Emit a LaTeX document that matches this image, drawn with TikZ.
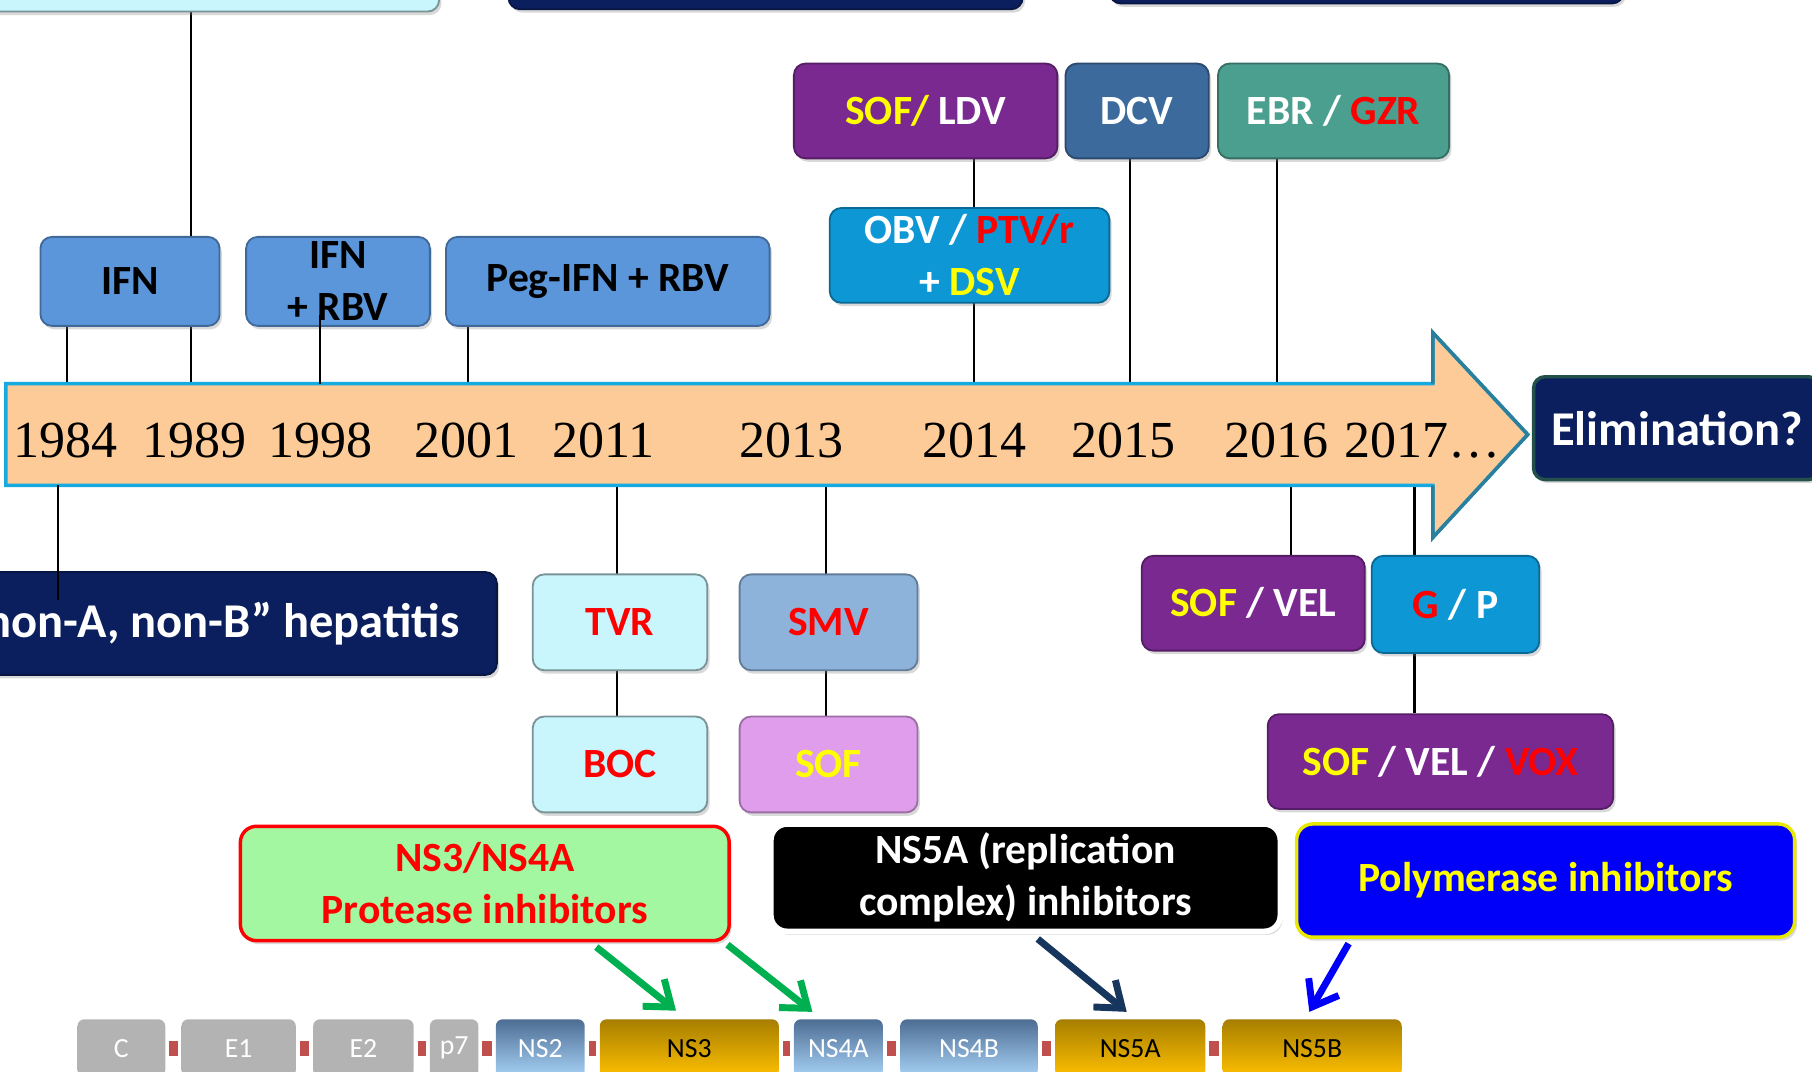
\documentclass[tikz,border=0pt]{standalone}
\usepackage{fontspec}
\setmainfont{Carlito}
\newfontfamily\yearfont{Liberation Serif}
\usetikzlibrary{arrows.meta,shadows,backgrounds}

\definecolor{ifnblue}{HTML}{5B96DA}
\definecolor{daapurple}{HTML}{7A2990}
\definecolor{dcvblue}{HTML}{3D6A9D}
\definecolor{ebrteal}{HTML}{4B9F8E}
\definecolor{skyblue}{HTML}{0E97D5}
\definecolor{navy}{HTML}{0B1F5E}
\definecolor{elimedge}{HTML}{24504C}
\definecolor{paleblue}{HTML}{C9F5FC}
\definecolor{smvblue}{HTML}{8EB3DB}
\definecolor{lilac}{HTML}{DF9DEC}
\definecolor{peach}{HTML}{FCCB98}
\definecolor{barline}{HTML}{17AAE0}
\definecolor{headline}{HTML}{2B7E9C}
\definecolor{pigreen}{HTML}{A3F7A1}
\definecolor{polyblue}{HTML}{0000FA}
\definecolor{polyedge}{HTML}{E8E800}
\definecolor{arrowgreen}{HTML}{00B050}
\definecolor{arrownavy}{HTML}{17365D}
\definecolor{genegrey}{HTML}{B3B3B3}
\definecolor{genegoldtop}{HTML}{A67E00}
\definecolor{genegold}{HTML}{FFC000}
\definecolor{genebluetop}{HTML}{4D6D93}
\definecolor{geneblue}{HTML}{A8D2F7}
\definecolor{linkred}{HTML}{C0504D}
\definecolor{txtyellow}{HTML}{FFFF00}
\definecolor{txtred}{HTML}{FF0000}

\def \BoxFont {\bfseries\fontsize{18}{22.5}\selectfont}
\def \BigFont {\bfseries\fontsize{21}{25}\selectfont}
\def \GeneFont {\fontsize{12}{14}\selectfont}
\def \BarTop {332}
\def \BarBot {420}
\def \GeneY {907}

\tikzstyle{box}=[
  rounded corners=5pt,
  inner sep=0pt,
  align=center,
  font=\BoxFont,
  text=white,
  line width=0.8pt,
  drop shadow={opacity=0.3, shadow xshift=1pt, shadow yshift=-1.5pt}
]
\tikzstyle{ifn}=[box, fill=ifnblue, draw=ifnblue!70!black, text=black, minimum height=38.5pt]
\tikzstyle{daa}=[box, fill=daapurple, draw=daapurple!70!black, minimum height=41pt]
\tikzstyle{sky}=[box, fill=skyblue, draw=skyblue!70!black, minimum height=41pt]
\tikzstyle{pale}=[box, fill=paleblue, draw=paleblue!60!black, text=txtred, minimum width=75.5pt, minimum height=41.5pt]
\tikzstyle{navybox}=[box, fill=navy, draw=navy!70!black]
\tikzstyle{class}=[box, rounded corners=7pt, line width=1.5pt]
\tikzstyle{gene}=[rounded corners=3pt, inner sep=0pt, minimum height=25pt, font=\GeneFont]
\tikzstyle{link}=[draw=linkred, line width=6.5pt, shorten <=1.5pt, shorten >=1.5pt]
\tikzstyle{tick}=[draw=black, line width=1pt]
\tikzstyle{inhib}=[line width=3pt, -{Straight Barb[length=10pt,width=15pt]}]
\tikzstyle{year}=[inner sep=0pt, font=\yearfont\fontsize{22.5}{27}\selectfont]

\begin{document}
\begin{tikzpicture}[x=0.5pt, y=-0.5pt]
  \useasboundingbox (0,0) rectangle (1568,927);
  \clip (0,0) rectangle (1568,927);

  % timeline
  \draw[fill=peach, draw=barline, line width=1.5pt] (5,\BarTop) -- (1240,\BarTop) -- (1240,288)
    -- (1322,376) -- (1240,465) -- (1240,\BarBot) -- (5,\BarBot) -- cycle;
  \draw[draw=headline, line width=1.5pt] (1240,\BarTop) -- (1240,288) -- (1322,376)
    -- (1240,465) -- (1240,\BarBot);

  \foreach \n/\x in {1984/57, 1989/168, 1998/277, 2001/404, 2011/522, 2013/685, 2014/843, 2015/972, 2016/1105}{
    \node[year] (y\n) at (\x,381) {\n};
  }
  \node[year, anchor=west] (y2017) at (1163,381) {2017…};

  \foreach \n/\x in {84/58, 89/165, 98/277, 01/405, 14/843, 15/978, 16/1105}{
    \coordinate (up\n) at (\x,\BarTop);
  }
  \foreach \n/\x in {84/50, 11/534, 13/715, 16/1117, 17/1224}{
    \coordinate (dn\n) at (\x,\BarBot);
  }

  % top, cut off
  \node[pale, minimum width=200pt, minimum height=45pt] (topA) at (180,-35) {};
  \node[navybox, minimum width=222.5pt, minimum height=44pt] (topB) at (662.5,-36) {};
  \node[navybox, minimum width=222.5pt, minimum height=44pt] (topC) at (1182.5,-41) {};

  % interferon
  \node[ifn, minimum width=77.5pt] (ifn) at (112.5,243.5) {IFN};
  \node[ifn, minimum width=79.5pt] (ifnrbv) at (292.5,243.5) {};
  \node[inner sep=0pt, align=center, font=\BoxFont] (ifnrbvtext) at (ifnrbv) {IFN\\+ RBV};
  \node[ifn, minimum width=140pt] (peg) at (526,243.5) {Peg-IFN + RBV};

  % daa above
  \node[daa, minimum width=114pt] (sofldv) at (801,96) {\textcolor{txtyellow}{SOF/} LDV};
  \node[box, fill=dcvblue, draw=dcvblue!70!black, minimum width=62pt, minimum height=41pt] (dcv) at (984,96) {DCV};
  \node[box, fill=ebrteal, draw=ebrteal!70!black, minimum width=100pt, minimum height=41pt] (ebr) at (1154,96) {EBR / \textcolor{txtred}{GZR}};
  \node[sky, minimum width=121pt] (obv) at (839,221) {OBV / \textcolor{txtred}{PTV/r}\\+ \textcolor{txtyellow}{DSV}};
  \node[navybox, draw=elimedge, line width=1.5pt, minimum width=124pt, minimum height=44.5pt,
    font=\BigFont] (elim) at (1451,370.5) {Elimination?};

  % below
  \node[navybox, minimum width=230pt, minimum height=44.5pt] (hep) at (200,539.5) {};
  \node[anchor=east, inner sep=0pt, font=\BigFont, text=white] (heptext) at ([xshift=-16.5pt]hep.east) {“non-A, non-B” hepatitis};
  \node[pale] (tvr) at (536.5,538.5) {TVR};
  \node[pale] (boc) at (536.5,661.5) {BOC};
  \node[box, fill=smvblue, draw=smvblue!70!black, text=txtred, minimum width=77pt, minimum height=41.5pt] (smv) at (717,538.5) {SMV};
  \node[box, fill=lilac, draw=lilac!70!black, text=txtyellow, minimum width=77pt, minimum height=41.5pt] (sof) at (717,661.5) {SOF};
  \node[daa, minimum width=96.5pt] (sofvel) at (1084.5,522) {\textcolor{txtyellow}{SOF} / VEL};
  \node[sky, minimum width=72.5pt, minimum height=42pt] (gp) at (1259.5,523) {\textcolor{txtred}{G} / P};
  \node[daa, minimum width=149.5pt] (sofvelvox) at (1246.5,659) {\textcolor{txtyellow}{SOF} / VEL / \textcolor{txtred}{VOX}};

  % classes
  \node[class, fill=pigreen, draw=txtred, text=txtred, minimum width=211.5pt, minimum height=49.5pt] (pi) at (419.5,764.5) {NS3/NS4A\\Protease inhibitors};
  \node[class, fill=black, draw=white, line width=2.5pt, minimum width=220.5pt, minimum height=46.5pt] (ns5ai) at (887.5,759.5) {NS5A (replication\\complex) inhibitors};
  \node[class, fill=polyblue, draw=polyedge, text=txtyellow, minimum width=215.5pt, minimum height=49pt] (poly) at (1337.5,762) {Polymerase inhibitors};

  % genome
  \foreach \n/\t/\x/\w/\tc/\bc/\fc in {
      c/C/105/38/genegrey/genegrey/white,
      e1/E1/206.5/49.5/genegrey/genegrey/white,
      e2/E2/314.5/43.5/genegrey/genegrey/white,
      p7/p7/393/21/genegrey/genegrey/white,
      ns2/NS2/467.5/38.5/genebluetop/geneblue/white,
      ns3/NS3/596.5/77.5/genegoldtop/genegold/black,
      ns4a/NS4A/725.5/38.5/genebluetop/geneblue/white,
      ns4b/NS4B/838.5/59.5/genebluetop/geneblue/white,
      ns5a/NS5A/978/65/genegoldtop/genegold/black,
      ns5b/NS5B/1135.5/77.5/genegoldtop/genegold/black}{
    \node[gene, top color=\tc, bottom color=\bc, text=\fc, minimum width=\w pt] (\n) at (\x,\GeneY) {\t};
  }
  \foreach \a/\b in {c/e1, e1/e2, e2/p7, p7/ns2, ns2/ns3, ns3/ns4a, ns4a/ns4b, ns4b/ns5a, ns5a/ns5b}{
    \draw[link] (\a) -- (\b);
  }

  % ticks
  \begin{scope}[on background layer]
    \draw[tick] (up84 |- ifn.south) -- (up84);
    \draw[tick] (up89 |- topA.south) -- (up89);
    \draw[tick] (up01 |- peg.south) -- (up01);
    \draw[tick] (up14 |- sofldv.south) -- (up14);
    \draw[tick] (up15 |- dcv.south) -- (up15);
    \draw[tick] (up16 |- ebr.south) -- (up16);
    \draw[tick] (dn11) -- (dn11 |- boc.north);
    \draw[tick] (dn13) -- (dn13 |- sof.north);
    \draw[tick] (dn16) -- (dn16 |- sofvel.north);
    \draw[tick] (dn17) -- (dn17 |- sofvelvox.north);
  \end{scope}
  \coordinate[yshift=5pt] (rbvend) at (ifnrbv.south -| up98);
  \coordinate[yshift=-12.5pt] (hepend) at (hep.north -| dn84);
  \draw[tick] (rbvend) -- (up98);
  \draw[tick] (dn84) -- (hepend);

  % inhibitors
  \draw[inhib, arrowgreen] ([xshift=48.25pt,yshift=-2pt]pi.south) -- ([xshift=-5.75pt,yshift=3.5pt]ns3.north);
  \draw[inhib, arrowgreen] ([xshift=-1.5pt,yshift=-1pt]pi.south east) -- ([xshift=-11.25pt,yshift=3pt]ns4a.north);
  \draw[inhib, arrownavy] ([xshift=5.25pt,yshift=-2pt]ns5ai.south) -- ([xshift=-1.5pt,yshift=3pt]ns5a.north);
  \draw[inhib, polyblue] ([xshift=-85.25pt,yshift=-2pt]poly.south) -- ([xshift=-1.25pt,yshift=3pt]ns5b.north);
\end{tikzpicture}
\end{document}
